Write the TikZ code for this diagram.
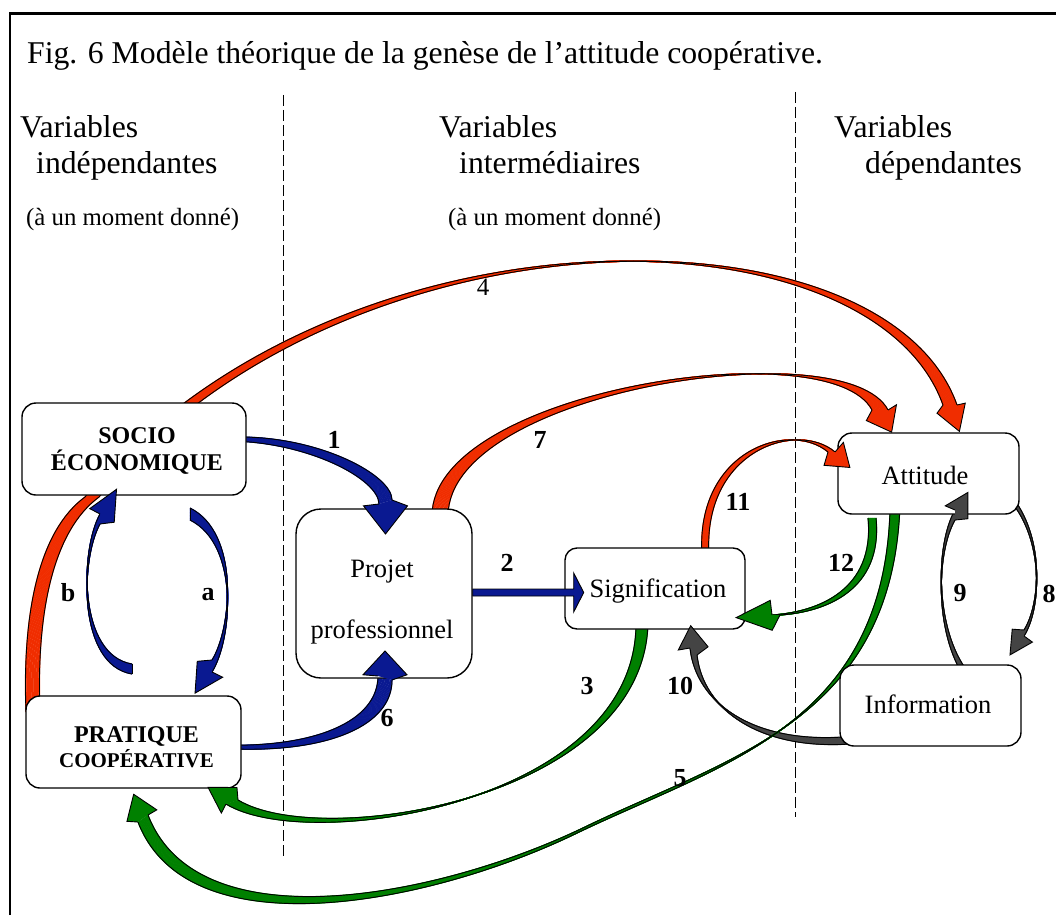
\documentclass[tikz,border=0pt]{standalone}
\usepackage{fontspec}
\setmainfont{Liberation Serif}
\usetikzlibrary{calc}
\definecolor{arrred}{RGB}{240,45,0}
\definecolor{arrblue}{RGB}{10,25,145}
\definecolor{arrgreen}{RGB}{0,128,0}
\definecolor{arrgray}{RGB}{68,68,68}
% #1 id, #2 colour, #3 path of edge a, #4 dx, #5 dy (edge b = a shifted), #6 last control, #7 end, #8 head length, #9 signed half width
\newcommand\bandarrow[9]{%
  \foreach \k in {0,...,20}{%
    \draw[#2, line width=1.1pt, shift={({\k/20*(#4)},{\k/20*(#5)})}] #3;}%
  \draw[outl] #3;
  \draw[outl, shift={(#4,#5)}] #3;
  \coordinate (#1-A) at (#7);
  \coordinate (#1-B) at ($(#7)+(#4,#5)$);
  \coordinate (#1-N) at ($(#7)+({0.5*(#4)},{0.5*(#5)})$);
  \coordinate (#1-C) at ($(#6)+({0.5*(#4)},{0.5*(#5)})$);
  \coordinate (#1-T) at ($(#1-N)!-#8!(#1-C)$);
  \coordinate (#1-F) at ($(#1-N)!0.12!(#1-T)$);
  \coordinate (#1-h) at ($(#1-N)!#9!90:(#1-C)$);
  \coordinate (#1-g) at ($(#1-N)!#9!-90:(#1-C)$);
  \coordinate (#1-HA) at ($(#1-h)+(#1-F)-(#1-N)$);
  \coordinate (#1-HB) at ($(#1-g)+(#1-F)-(#1-N)$);
}
\newcommand\bandhead[2]{%
  \fill[#2] (#1-A) -- (#1-HA) -- (#1-T) -- (#1-HB) -- (#1-B) -- cycle;
  \draw[outl, line join=miter] (#1-A) -- (#1-HA) -- (#1-T) -- (#1-HB) -- (#1-B);
}
\begin{document}
\begin{tikzpicture}[x=1pt,y=-1pt,
  outl/.style={draw=black,line width=0.9pt},
  box/.style={draw=black,line width=1.4pt,fill=white,inner sep=0pt},
  sep/.style={draw=black,line width=1pt,dash pattern=on 11pt off 4pt},
  head/.style={anchor=base west,inner sep=0pt,font=\fontsize{31.7}{36}\selectfont},
  small/.style={anchor=base west,inner sep=0pt,font=\fontsize{24.8}{28}\selectfont},
  btxt/.style={anchor=base,inner sep=0pt,font=\fontsize{26.5}{30}\selectfont},
  lbl/.style={inner sep=0pt,font=\fontsize{26}{30}\selectfont\bfseries}]
\useasboundingbox (0,0) rectangle (1056,915);
% frame
\draw[line width=2.6pt] (10,915) -- (10,13.3) -- (1056,13.3);
% title and headings
\node[head] (title) at (27,63.5) {Fig. 6 Modèle théorique de la genèse de l’attitude coopérative.};
\node[head] (v1) at (20,137) {Variables};
\node[head] (v1b) at (36,173) {indépendantes};
\node[small] (m1) at (26,225) {(à un moment donné)};
\node[head] (v2) at (439,137) {Variables};
\node[head] (v2b) at (459,173) {intermédiaires};
\node[small] (m2) at (448,225) {(à un moment donné)};
\node[head] (v3) at (834,137) {Variables};
\node[head] (v3b) at (865,173) {dépendantes};
% separators
\draw[sep] (283,95) -- (283,856);
\draw[sep] (795,92) -- (795,817);
% bands
\bandarrow{h4}{arrred}{(26,712) .. controls (22,610) and (40,530) .. (85,497) .. controls (330,200) and (870,200) .. (943,405)}{14}{0}{870,200}{943,405}{28pt}{15pt}
\bandarrow{h7}{arrred}{(432,516) .. controls (432,390) and (830,330) .. (872,410)}{16}{0}{830,330}{872,410}{25pt}{17pt}
\bandarrow{h11}{arrred}{(702,556) .. controls (695,450) and (790,420) .. (828,452)}{7}{0}{790,420}{828,452}{24pt}{15pt}
\bandarrow{h12}{arrgreen}{(868,518) .. controls (875,590) and (818,612) .. (772,615)}{8}{0}{818,612}{772,615}{40pt}{15pt}
\bandarrow{h1}{arrblue}{(240,437) .. controls (320,437) and (392,475) .. (392,500)}{-13}{4}{392,475}{392,500}{32pt}{-22pt}
\bandarrow{h6}{arrblue}{(235,749) .. controls (330,752) and (392,725) .. (392,680)}{-14}{-4}{392,725}{392,680}{27pt}{22pt}
\bandarrow{ha}{arrblue}{(190,520) .. controls (240,545) and (232,640) .. (212,672)}{0}{-12}{232,640}{212,672}{32pt}{-15pt}
\draw[outl] (190,520) -- (190,508);
\bandarrow{hb}{arrblue}{(132,674) .. controls (78,665) and (80,560) .. (100,524)}{0}{-10}{80,560}{100,524}{34pt}{14pt}
\draw[outl] (132,674) -- (132,664);
\bandarrow{h8}{arrgray}{(1013,498) .. controls (1045,540) and (1040,605) .. (1024,630)}{0}{6}{1040,605}{1024,630}{26pt}{12pt}
\bandarrow{h9}{arrgray}{(968,682) .. controls (935,640) and (935,555) .. (955,520)}{0}{-10}{935,555}{955,520}{26pt}{13pt}
\bandarrow{h10}{arrgray}{(850,744) .. controls (760,750) and (703,710) .. (697,655)}{-7}{-7}{703,710}{697,655}{26pt}{15pt}
\bandarrow{h3}{arrgreen}{(648,622) .. controls (645,800) and (320,850) .. (238,800)}{-12}{4}{320,850}{238,800}{28pt}{15pt}
\bandarrow{h5}{arrgreen}{(900,504) .. controls (893,720) and (730,757) .. (585,827) .. controls (440,897) and (198,945) .. (148,815)}{-10}{7}{198,945}{148,815}{26pt}{16pt}
% boxes
\node[box, rounded corners=14pt, minimum width=224pt, minimum height=92pt] (socio) at (134,449) {};
\node[box, rounded corners=14pt, minimum width=215pt, minimum height=92pt] (prat) at (133.5,742) {};
\node[box, rounded corners=25pt, minimum width=176pt, minimum height=169pt] (projet) at (384,593.5) {};
\node[box, rounded corners=12pt, minimum width=180pt, minimum height=81pt] (sig) at (655,588.5) {};
\node[box, rounded corners=14pt, minimum width=181pt, minimum height=81pt] (att) at (928.5,473.5) {};
\node[box, rounded corners=14pt, minimum width=181pt, minimum height=81pt] (info) at (930.5,705.5) {};
% box texts
\node[anchor=base,inner sep=0pt,font=\fontsize{24}{28}\selectfont\bfseries] (st1) at (137,443) {SOCIO};
\node[anchor=base,inner sep=0pt,font=\fontsize{24}{28}\selectfont\bfseries] (st2) at (137,470) {ÉCONOMIQUE};
\node[anchor=base,inner sep=0pt,font=\fontsize{24}{28}\selectfont\bfseries] (pt1) at (136.5,742) {PRATIQUE};
\node[anchor=base,inner sep=0pt,font=\fontsize{21}{24}\selectfont\bfseries] (pt2) at (136.5,767) {COOPÉRATIVE};
\node[btxt] (jt1) at (382,577) {Projet};
\node[btxt] (jt2) at (382,638) {professionnel};
\node[btxt] (sgt) at (658,597) {Signification};
\node[btxt] (att-t) at (925,484) {Attitude};
\node[btxt] (inf-t) at (928,713) {Information};
% straight arrow 2
\coordinate (p2s) at (projet.east);
\filldraw[fill=arrblue,outl] ($(p2s)+(0,-4.5)$) -- ($(p2s)+(101,-4.5)$) -- ($(p2s)+(101,-20.5)$) -- ($(p2s)+(111,-1)$) -- ($(p2s)+(101,18.5)$) -- ($(p2s)+(101,2.5)$) -- ($(p2s)+(0,2.5)$) -- cycle;
% heads
\bandhead{h4}{arrred}
\bandhead{h7}{arrred}
\bandhead{h11}{arrred}
\bandhead{h12}{arrgreen}
\bandhead{h1}{arrblue}
\bandhead{h6}{arrblue}
\bandhead{ha}{arrblue}
\bandhead{hb}{arrblue}
\bandhead{h8}{arrgray}
\bandhead{h9}{arrgray}
\bandhead{h10}{arrgray}
\bandhead{h3}{arrgreen}
\bandhead{h5}{arrgreen}
% labels
\node[lbl] (l1) at (334,440) {1};
\node[lbl] (l7) at (540,440) {7};
\node[lbl] (l2) at (507,563) {2};
\node[lbl] (l3) at (587,686) {3};
\node[lbl] (l10) at (680,686) {10};
\node[lbl] (l11) at (738,502) {11};
\node[lbl] (l12) at (841,563) {12};
\node[lbl] (l9) at (960,593) {9};
\node[lbl] (l8) at (1049,594) {8};
\node[lbl] (la) at (208,595) {a};
\node[lbl] (lb) at (68,593) {b};
\node[lbl] (l6) at (387,718) {6};
\node[lbl] (l5) at (680,778) {5};
\node[inner sep=0pt,font=\fontsize{25}{30}\selectfont] (l4) at (483,287) {4};
\end{tikzpicture}
\end{document}
